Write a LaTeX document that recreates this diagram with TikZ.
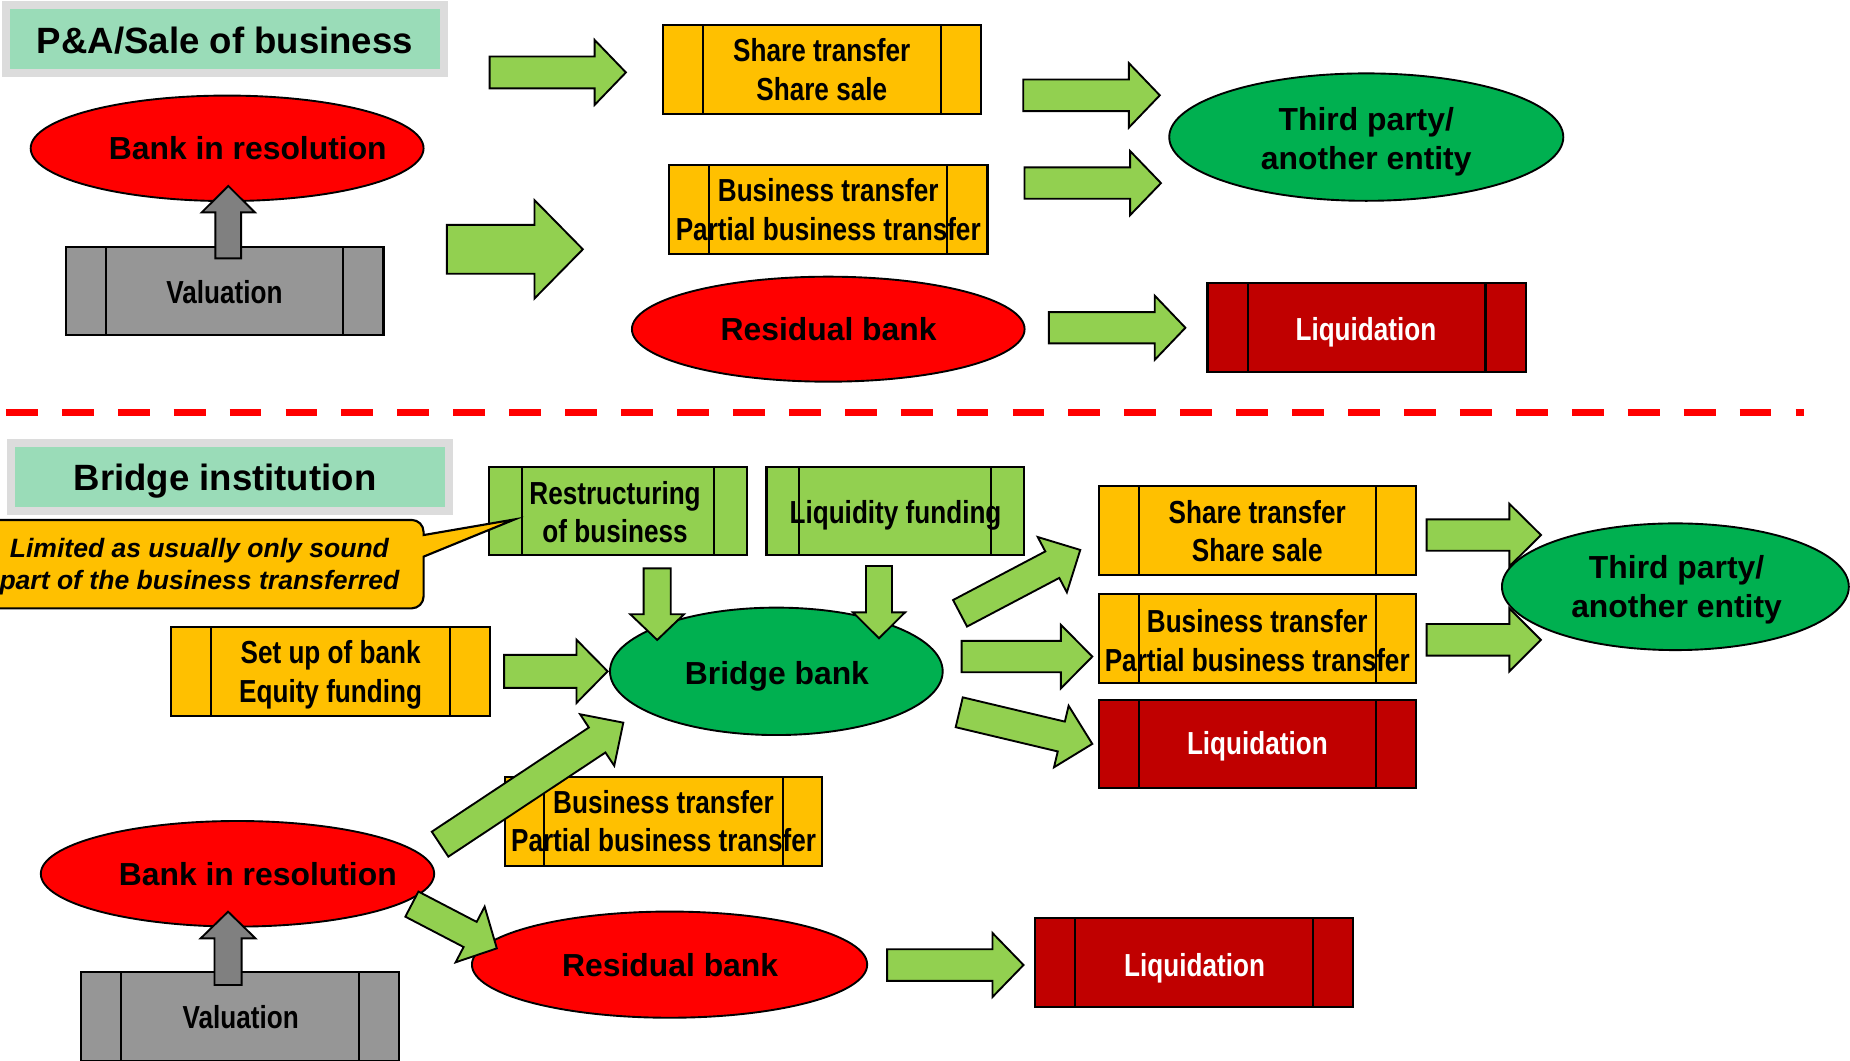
\documentclass[tikz,border=0pt]{standalone}
\usepackage{fontspec}
\newfontfamily\widefont{Liberation Sans}
\newfontfamily\narrowfont{Liberation Sans}[FakeStretch=0.82]
\usetikzlibrary{calc}

\definecolor{mint}{HTML}{9ADCB8}
\definecolor{framegray}{HTML}{DCDCDC}
\definecolor{amber}{HTML}{FFC000}
\definecolor{lgreen}{HTML}{92D050}
\definecolor{dgreen}{HTML}{00B050}
\definecolor{bred}{HTML}{FF0000}
\definecolor{dred}{HTML}{C00000}
\definecolor{valgray}{HTML}{969696}
\definecolor{arrgray}{HTML}{808080}

\tikzset{
  boxline/.style={draw=black, line width=0.9pt},
  ell/.style={draw=black, line width=0.8pt},
  greenarrow/.style={draw=black, line width=0.8pt, line join=miter, fill=lgreen},
  grayarrow/.style={draw=black, line width=0.8pt, line join=miter, fill=arrgray},
  boxtext/.style={font=\narrowfont\bfseries\fontsize{13.5}{16.25}\selectfont, align=center, inner sep=0pt},
  whitetext/.style={boxtext, text=white},
  elltext/.style={font=\widefont\bfseries\fontsize{13.5}{16.4}\selectfont, align=center, inner sep=0pt},
  titletext/.style={font=\widefont\bfseries\fontsize{15.5}{18}\selectfont, inner sep=0pt},
  notetext/.style={font=\widefont\bfseries\itshape\fontsize{11.25}{13.5}\selectfont, align=center, inner sep=0pt}
}

% process box with a band at each end: fill, x1, y1, x2, y2, band width
\newcommand\pbox[6]{%
  \draw[boxline, fill=#1] (#2,#3) rectangle (#4,#5);
  \draw[boxline] (#2+#6,#3) -- (#2+#6,#5) (#4-#6,#3) -- (#4-#6,#5);}

% block arrow: style, tail x, tail y, tip x, tip y, half shaft, half head, head length
\newcommand\blockarrow[8]{%
  \pgfmathsetmacro\baAng{atan2(-(#5-#3),#4-#2)}%
  \pgfmathsetmacro\baLen{veclen(#4-#2,#5-#3)}%
  \pgfmathsetmacro\baBase{\baLen-#8}%
  \draw[#1, shift={(#2,#3)}, rotate=\baAng]
    (0,-#6) -- (\baBase,-#6) -- (\baBase,-#7) -- (\baLen,0)
    -- (\baBase,#7) -- (\baBase,#6) -- (0,#6) -- cycle;}

\begin{document}
\begin{tikzpicture}[x=0.5pt,y=-0.5pt]
\useasboundingbox (0,0) rectangle (1568,899);

% ---------- P&A / sale of business ----------
\fill[framegray] (1.7,0.9) rectangle (379.7,65);
\fill[mint] (8.4,7.6) rectangle (373,58.5);
\node[titletext, anchor=base] (pa) at (190.7,45.2) {P\&A/Sale of business};

\draw[ell, fill=bred] (192.5,125.7) ellipse [x radius=166.5, y radius=44.7];
\node[elltext, anchor=base] (bir1) at (210,135.6) {Bank in resolution};

\pbox{valgray}{56}{209}{325}{284}{34}
\node[boxtext, anchor=base] (val1) at (190.2,257) {Valuation};
\blockarrow{grayarrow}{193.5}{219}{193.5}{157.6}{10.9}{22.5}{22.4}

\pbox{amber}{561.7}{21.2}{831.4}{96.6}{34}
\node[boxtext] (st1) at (696.5,59) {Share transfer\\Share sale};
\pbox{amber}{567}{139.8}{837}{215.3}{34}
\node[boxtext] (bt1) at (702,177.6) {Business transfer\\Partial business transfer};

\draw[ell, fill=bred] (702,279) ellipse [x radius=166.4, y radius=44.5];
\node[elltext, anchor=base] (res1) at (702.3,288.7) {Residual bank};

\draw[ell, fill=dgreen] (1158,116.2) ellipse [x radius=167, y radius=54];
\node[elltext] (tp1) at (1158,120) {Third party/\\another entity};

\pbox{dred}{1023.4}{240}{1293}{315.5}{34}
\node[whitetext, anchor=base] (liq1) at (1157.7,288.2) {Liquidation};

\blockarrow{greenarrow}{415}{61.4}{530.5}{61.4}{13.5}{27.5}{26.5}
\blockarrow{greenarrow}{378.7}{211.3}{494}{211.3}{20.7}{41.7}{41}
\blockarrow{greenarrow}{867.3}{80.8}{983}{80.8}{13.4}{27.3}{26.2}
\blockarrow{greenarrow}{868.3}{155.2}{984}{155.2}{13.3}{27.2}{26.2}
\blockarrow{greenarrow}{889}{277.8}{1004.7}{277.8}{13.2}{27.2}{26}

% ---------- separator ----------
\coordinate (sepL) at (5,349.5);
\coordinate (sepR) at (1529,349.5);
\draw[bred, line width=2.75pt, dash pattern=on 13.5pt off 10.2pt] (sepL) -- (sepR);

% ---------- bridge institution ----------
\fill[framegray] (5.7,372.4) rectangle (383.7,436.5);
\fill[mint] (12.4,379) rectangle (377,430);
\node[titletext, anchor=base] (bi) at (190.7,415.9) {Bridge institution};

\pbox{lgreen}{414.8}{395.5}{632.8}{470.5}{27.5}
\node[boxtext] (rest) at (521.3,434) {Restructuring\\of business};
\pbox{lgreen}{649.6}{395.5}{867.7}{470.5}{27.5}
\node[boxtext, anchor=base] (liqf) at (759,443.5) {Liquidity funding};

% note with pointer
\draw[boxline, fill=amber] (-20,440.7) -- (349,440.7)
  .. controls (354.5,440.7) and (359,445.2) .. (359,450.7)
  -- (359,453.5) -- (436.3,440.2) -- (359,471.8) -- (359,505.6)
  .. controls (359,511.1) and (354.5,515.6) .. (349,515.6)
  -- (-20,515.6) -- cycle;
\node[notetext] (note) at (169,480) {Limited as usually only sound\\part of the business transferred};

\pbox{amber}{145}{531.7}{415.5}{606.9}{34}
\node[boxtext] (setup) at (280.2,572) {Set up of bank\\Equity funding};

\draw[ell, fill=dgreen] (658,569) ellipse [x radius=141, y radius=54];
\node[elltext, anchor=base] (bb) at (658.5,580.5) {Bridge bank};

\blockarrow{greenarrow}{557}{481.7}{557}{542.4}{11.5}{22.8}{21.8}
\blockarrow{greenarrow}{745}{479.7}{745}{541}{11}{22.1}{22}
\blockarrow{greenarrow}{427.3}{569}{515}{569}{14}{26.8}{26.4}

\pbox{amber}{931.1}{411.9}{1200.2}{487.3}{34}
\node[boxtext] (st2) at (1065.6,450.2) {Share transfer\\Share sale};
\pbox{amber}{931.1}{503.4}{1200.2}{578.6}{34}
\node[boxtext] (bt2) at (1065.6,543) {Business transfer\\Partial business transfer};
\pbox{dred}{931.1}{593.3}{1200.2}{668}{34}
\node[whitetext, anchor=base] (liq2) at (1065.7,639.9) {Liquidation};

\blockarrow{greenarrow}{813.7}{519.8}{915.6}{466.1}{12.7}{26.5}{26.8}
\blockarrow{greenarrow}{815}{556.5}{925.8}{556.5}{13.3}{26.9}{26.6}
\blockarrow{greenarrow}{813}{603.7}{925.8}{630.5}{13}{26.8}{27}

\blockarrow{greenarrow}{1209.2}{453.5}{1306.1}{453.5}{13.3}{26.5}{26.8}
\blockarrow{greenarrow}{1209.2}{542.3}{1306}{542.3}{13.4}{26.7}{26.7}
\draw[ell, fill=dgreen] (1420,497.3) ellipse [x radius=147, y radius=53.7];
\node[elltext] (tp2) at (1421,500) {Third party/\\another entity};

\pbox{amber}{427.8}{658.3}{697}{733.7}{33.5}
\node[boxtext] (bt3) at (562.4,696) {Business transfer\\Partial business transfer};

\draw[ell, fill=bred] (201.3,740.6) ellipse [x radius=166.7, y radius=44.75];
\node[elltext, anchor=base] (bir2) at (218.5,750.7) {Bank in resolution};

\draw[ell, fill=bred] (567.5,817.6) ellipse [x radius=167.5, y radius=45];
\node[elltext, anchor=base] (res2) at (568,827.8) {Residual bank};

\pbox{valgray}{68.7}{824}{338.2}{899.5}{34}
\node[boxtext, anchor=base] (val2) at (204,871.6) {Valuation};
\blockarrow{grayarrow}{193.3}{834.8}{193.3}{772.7}{11.5}{23.2}{22.6}

\pbox{dred}{877.2}{777.8}{1147}{853.3}{34}
\node[whitetext, anchor=base] (liq3) at (1012.5,827.3) {Liquidation};

\blockarrow{greenarrow}{373}{715.5}{528.3}{612.5}{12.7}{26.2}{26.6}
\blockarrow{greenarrow}{349.1}{766.3}{421.1}{803.8}{12}{26.6}{25.5}
\blockarrow{greenarrow}{751.9}{817.9}{867.5}{817.9}{13.4}{27.1}{26.3}
\end{tikzpicture}
\end{document}
